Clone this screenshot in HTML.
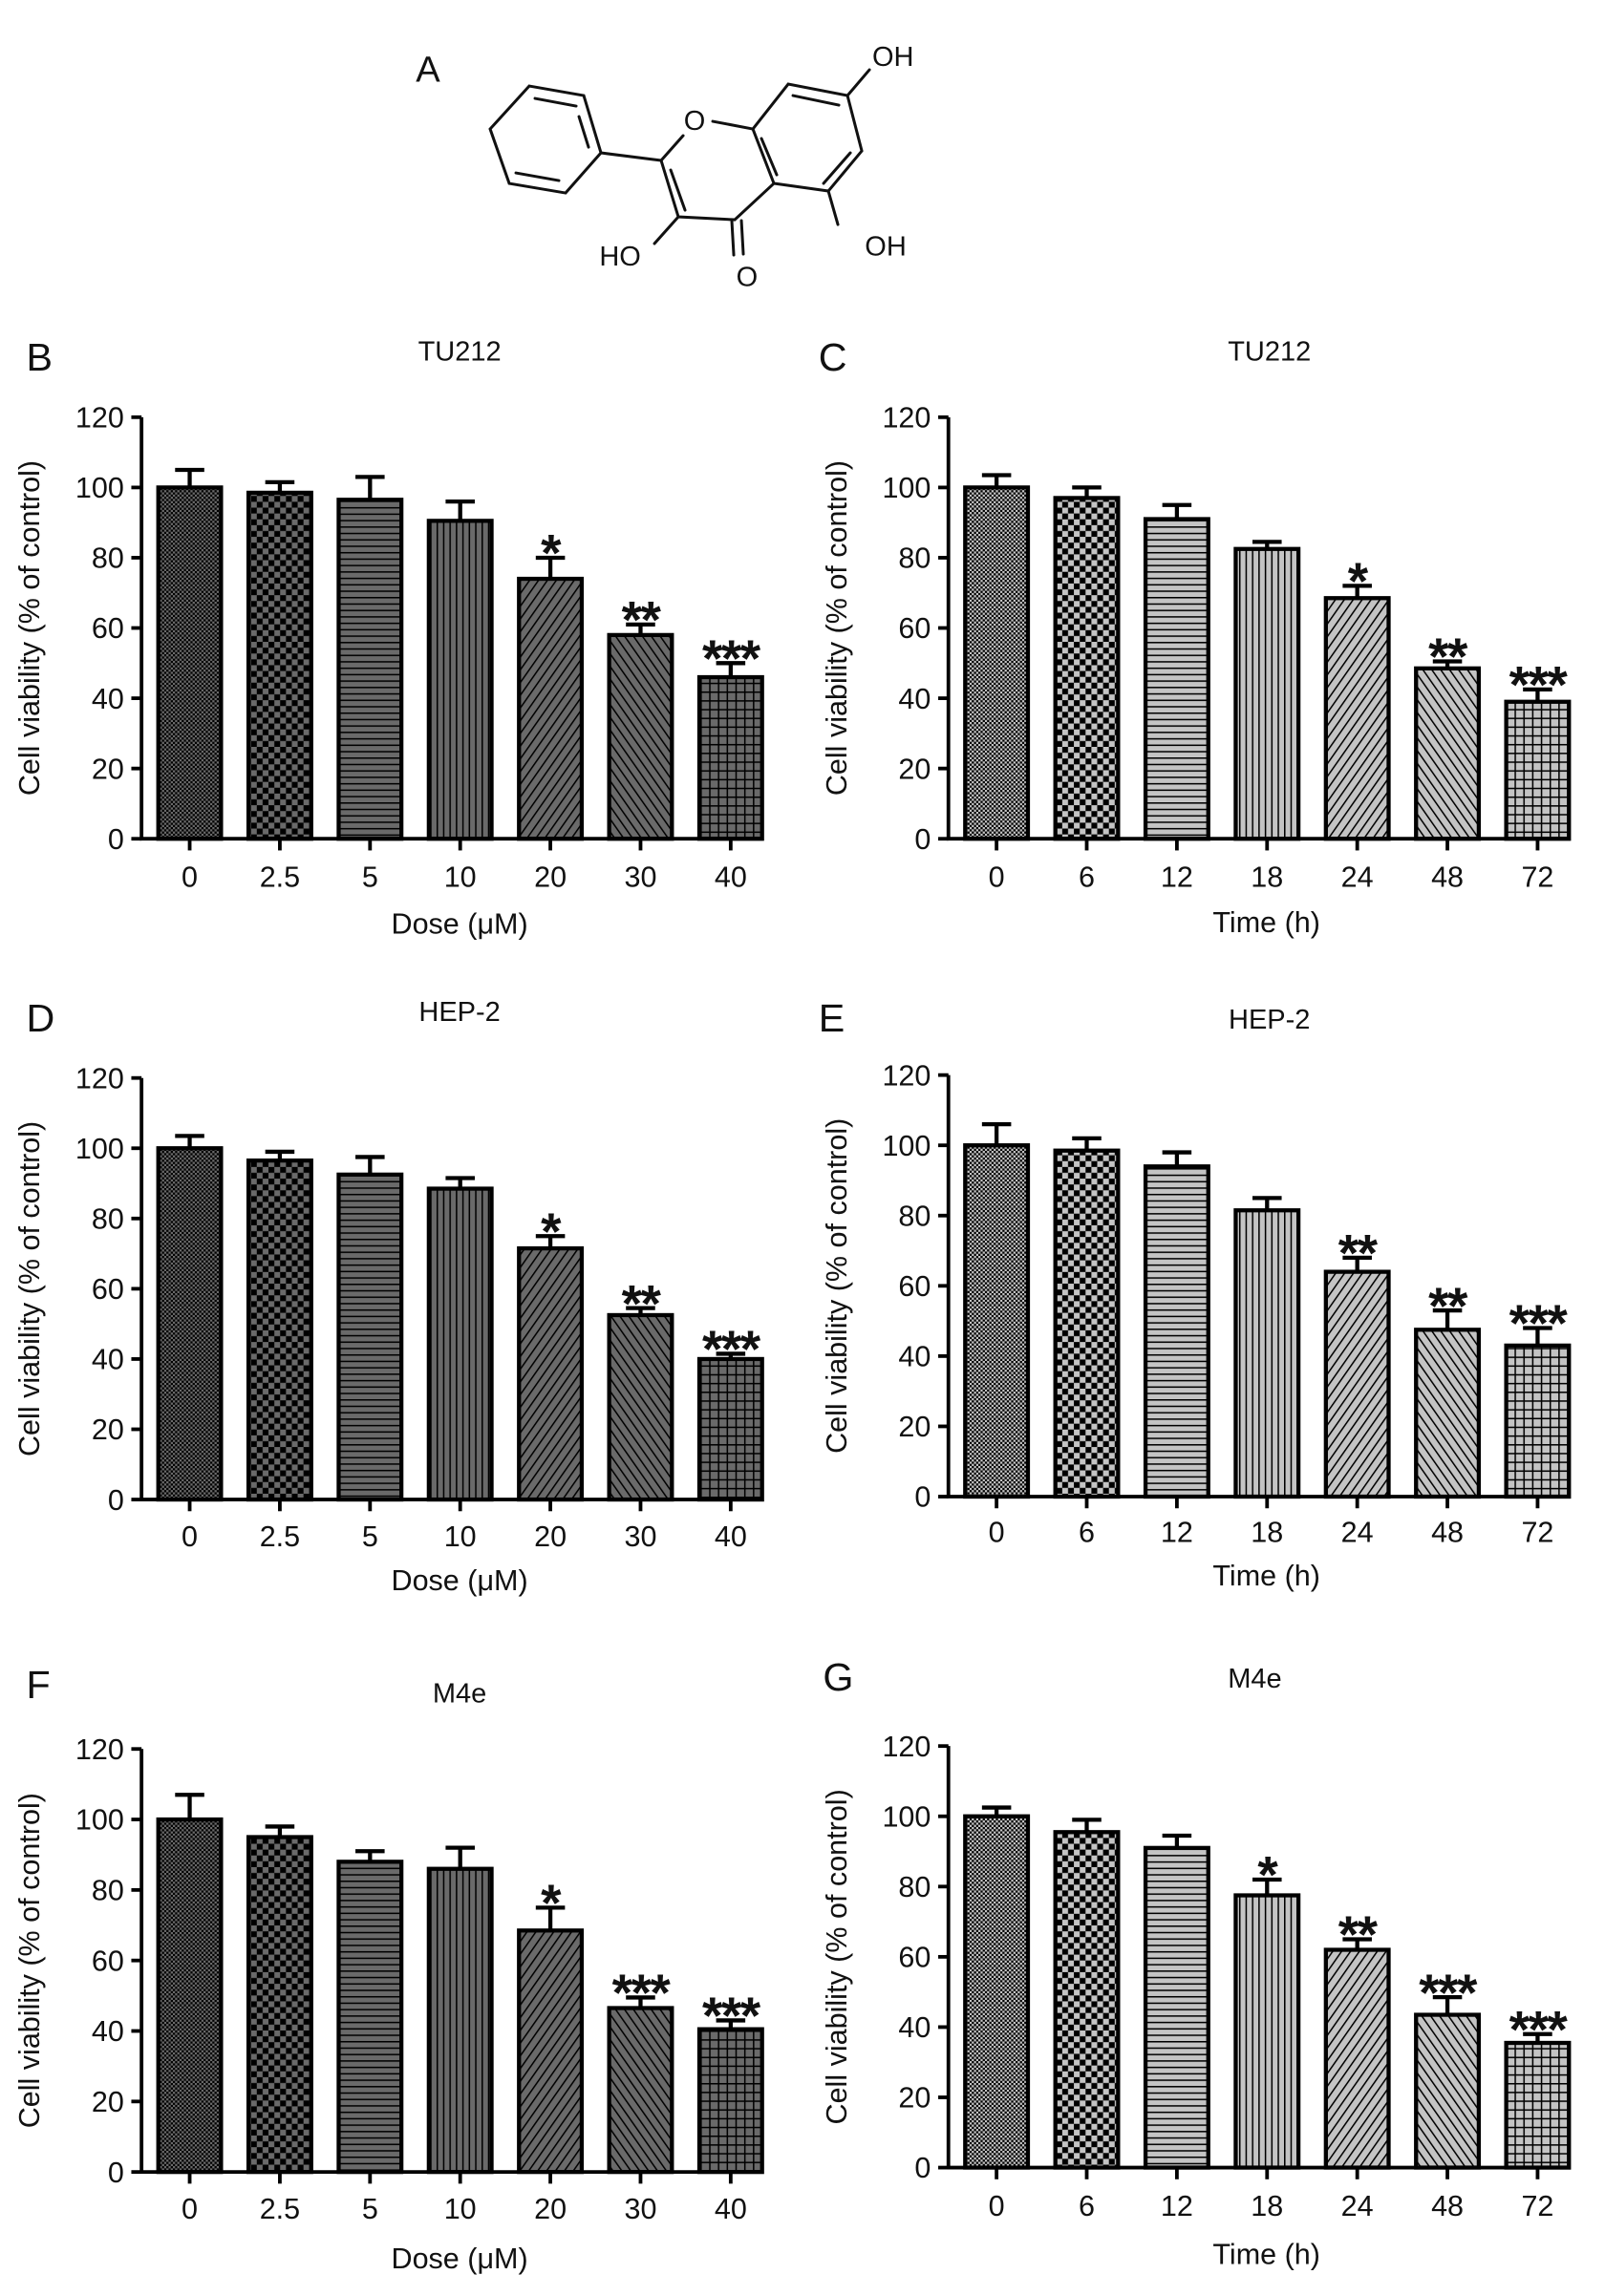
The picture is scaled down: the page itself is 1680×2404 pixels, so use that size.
<!DOCTYPE html>
<html><head><meta charset="utf-8"><style>
html,body{margin:0;padding:0;background:#fff}
svg{display:block}
text{font-family:"Liberation Sans",Arial,sans-serif;fill:#111}
</style></head><body>
<svg id="fig" xmlns="http://www.w3.org/2000/svg" width="1680" height="2404" viewBox="0 0 1100 1574">
<defs>
 <pattern id="p0" patternUnits="userSpaceOnUse" width="3" height="3"><rect x="0" y="0" width="1.5" height="1.5" fill="#000"/><rect x="1.5" y="1.5" width="1.5" height="1.5" fill="#000"/></pattern>
 <pattern id="p1" patternUnits="userSpaceOnUse" width="8" height="8"><rect x="0" y="0" width="4" height="4" fill="#000"/><rect x="4" y="4" width="4" height="4" fill="#000"/></pattern>
 <pattern id="p2" patternUnits="userSpaceOnUse" width="6" height="4.4"><rect x="0" y="0" width="6" height="1" fill="#000"/></pattern>
 <pattern id="p3" patternUnits="userSpaceOnUse" width="4.4" height="6"><rect x="0" y="0" width="1" height="6" fill="#000"/></pattern>
 <pattern id="p4" patternUnits="userSpaceOnUse" width="5" height="5" patternTransform="rotate(35)"><rect x="0" y="0" width="1" height="5" fill="#000"/></pattern>
 <pattern id="p5" patternUnits="userSpaceOnUse" width="5" height="5" patternTransform="rotate(-35)"><rect x="0" y="0" width="1" height="5" fill="#000"/></pattern>
 <pattern id="p6" patternUnits="userSpaceOnUse" width="6" height="6"><rect x="0" y="0" width="6" height="1" fill="#000"/><rect x="0" y="0" width="1" height="6" fill="#000"/></pattern>
</defs>
<g id="molecule" transform="scale(0.6548)" stroke="#111" stroke-width="3" fill="none" stroke-linecap="round">
 <polygon points="554,90 611,100 629,160 592,202 533,192 513,135"/>
 <line x1="560" y1="103" x2="603" y2="111"/><line x1="585" y1="189" x2="540" y2="181"/><line x1="606" y1="122" x2="616" y2="154"/>
 <line x1="629" y1="160" x2="692" y2="168"/>
 <line x1="692" y1="168" x2="715" y2="142"/>
 <line x1="746" y1="127" x2="788" y2="135"/>
 <polyline points="788,135 825,88 887,100 902,158 867,200 810,192 788,135"/>
 <line x1="830" y1="100" x2="878" y2="110"/><line x1="890" y1="160" x2="862" y2="192"/><line x1="797" y1="145" x2="813" y2="183"/>
 <polyline points="810,192 769,230 710,227 692,168"/>
 <line x1="702" y1="178" x2="717" y2="220"/>
 <line x1="887" y1="100" x2="910" y2="73"/>
 <line x1="867" y1="200" x2="877" y2="235"/>
 <line x1="710" y1="227" x2="685" y2="255"/>
 <line x1="766" y1="232" x2="768" y2="267"/><line x1="776" y1="231" x2="778" y2="266"/>
</g>
<g font-size="19">
 <text x="285" y="56" font-size="25">A</text>
 <text x="476" y="89" text-anchor="middle">O</text>
 <text x="612" y="45" text-anchor="middle">OH</text>
 <text x="425" y="182" text-anchor="middle">HO</text>
 <text x="512" y="196" text-anchor="middle">O</text>
 <text x="607" y="175" text-anchor="middle">OH</text>
</g>
<g id="charts"></g>
</svg>
<script>
// Shared categories
const doseCats = ["0","2.5","5","10","20","30","40"];
const timeCats = ["0","6","12","18","24","48","72"];
const yTicks = [0,20,40,60,80,100,120];
// Panel B: TU212 dose
const bVals = [100,98.5,96.5,90.5,74,58,46];
const bErr = [5,3,6.5,5.5,6,3,4];
const bStars = ["","","","","*","**","***"];
// Panel C: TU212 time
const cVals = [100,97,91,82.5,68.5,48.5,39];
const cErr = [3.5,3,4,2,3.5,2,3.5];
const cStars = ["","","","","*","**","***"];
// Panel D: HEP-2 dose
const dVals = [100,96.5,92.5,88.5,71.5,52.5,40];
const dErr = [3.5,2.5,5,3,3.5,2,1.5];
const dStars = ["","","","","*","**","***"];
// Panel E: HEP-2 time
const eVals = [100,98.5,94,81.5,64,47.5,43];
const eErr = [6,3.5,4,3.5,4,5.5,5];
const eStars = ["","","","","**","**","***"];
// Panel F: M4e dose
const fVals = [100,95,88,86,68.5,46.5,40.5];
const fErr = [7,3,3,6,6.5,3,2.5];
const fStars = ["","","","","*","***","***"];
// Panel G: M4e time
const gVals = [100,95.5,91,77.5,62,43.5,35.5];
const gErr = [2.5,3.5,3.5,4.5,3,5,2.5];
const gStars = ["","","","*","**","***","***"];

const NS="http://www.w3.org/2000/svg";
const root=document.getElementById('charts');
function mk(tag,attrs,parent,txt){const e=document.createElementNS(NS,tag);for(const k in attrs)e.setAttribute(k,attrs[k]);if(txt!==undefined)e.textContent=txt;parent.appendChild(e);return e;}

const panels=[
 {id:'b',letter:'B',title:'TU212',cats:doseCats,vals:bVals,err:bErr,stars:bStars,ax:97,y0:575,y120:286,xt:'Dose (\u03bcM)',fill:'#6a6a6a',lx:18,ly:254,tx:315,ty:247,tl:601,xl:633},
 {id:'c',letter:'C',title:'TU212',cats:timeCats,vals:cVals,err:cErr,stars:cStars,ax:650,y0:575,y120:286,xt:'Time (h)',fill:'#c4c4c4',lx:561,ly:254,tx:870,ty:247,tl:601,xl:632},
 {id:'d',letter:'D',title:'HEP-2',cats:doseCats,vals:dVals,err:dErr,stars:dStars,ax:97,y0:1028,y120:739,xt:'Dose (\u03bcM)',fill:'#6a6a6a',lx:18,ly:707,tx:315,ty:700,tl:1053,xl:1083},
 {id:'e',letter:'E',title:'HEP-2',cats:timeCats,vals:eVals,err:eErr,stars:eStars,ax:650,y0:1026,y120:737,xt:'Time (h)',fill:'#c4c4c4',lx:561,ly:707,tx:870,ty:705,tl:1050,xl:1080},
 {id:'f',letter:'F',title:'M4e',cats:doseCats,vals:fVals,err:fErr,stars:fStars,ax:97,y0:1489,y120:1199,xt:'Dose (\u03bcM)',fill:'#6a6a6a',lx:18,ly:1164,tx:315,ty:1167,tl:1514,xl:1548},
 {id:'g',letter:'G',title:'M4e',cats:timeCats,vals:gVals,err:gErr,stars:gStars,ax:650,y0:1486,y120:1197,xt:'Time (h)',fill:'#c4c4c4',lx:564,ly:1159,tx:860,ty:1157,tl:1512,xl:1545}
];

panels.forEach(p=>{
 const g=mk('g',{},root);
 
 
 const yScale=v=>p.y0-(v/120)*(p.y0-p.y120);
 const x0=p.ax+33, step=61.8, xEnd=p.ax+426;
 const xScale=i=>x0+i*step;
 const bw=43;
 const L=mk('text',{x:p.lx,y:p.ly,'font-size':27},g,p.letter);
 
 
 const T=mk('text',{x:p.tx,y:p.ty,'font-size':19,'text-anchor':'middle'},g,p.title);
 
 
 p.vals.forEach((v,i)=>{
  const cx=xScale(i), top=yScale(v);
  const r1=mk('rect',{x:cx-bw/2,y:top,width:bw,height:p.y0-top,fill:p.fill},g);
  
  
  const r2=mk('rect',{x:cx-bw/2,y:top,width:bw,height:p.y0-top,fill:'url(#p'+i+')',stroke:'#000','stroke-width':2.8},g);
  
  
  const et=yScale(v+p.err[i]);
  const e1=mk('path',{d:`M${cx} ${top} V${et} M${cx-10} ${et} H${cx+10}`,stroke:'#000','stroke-width':2.8,fill:'none'},g);
  
  
  if(p.stars[i]){
   const s=mk('text',{x:cx,y:et+9,'font-size':36,'font-weight':'bold','text-anchor':'middle','letter-spacing':'-1'},g,p.stars[i]);
   
   
  }
  const tk=mk('line',{x1:cx,y1:p.y0,x2:cx,y2:p.y0+8,stroke:'#000','stroke-width':2.5},g);
  
  
  const tl=mk('text',{x:cx,y:p.tl+7,'font-size':20,'text-anchor':'middle'},g,p.cats[i]);
  
  
 });
 const axp=mk('path',{d:`M${p.ax} ${p.y120} V${p.y0} H${xEnd}`,stroke:'#000','stroke-width':2.5,fill:'none'},g);
 
 
 yTicks.forEach(t=>{
  const y=yScale(t);
  const l=mk('line',{x1:p.ax-7,y1:y,x2:p.ax,y2:y,stroke:'#000','stroke-width':2.5},g);
  
  
  const tt=mk('text',{x:p.ax-12,y:y+7,'font-size':20,'text-anchor':'end'},g,String(t));
  
  
 });
 const yt=mk('text',{x:0,y:0,'font-size':20,'text-anchor':'middle',transform:`translate(${p.ax-70},${(p.y0+p.y120)/2}) rotate(-90)`},g,'Cell viability (% of control)');
 
 
 const xt=mk('text',{x:p.ax+218,y:p.xl+7,'font-size':20,'text-anchor':'middle'},g,p.xt);
 
 
});
</script>
</body></html>
